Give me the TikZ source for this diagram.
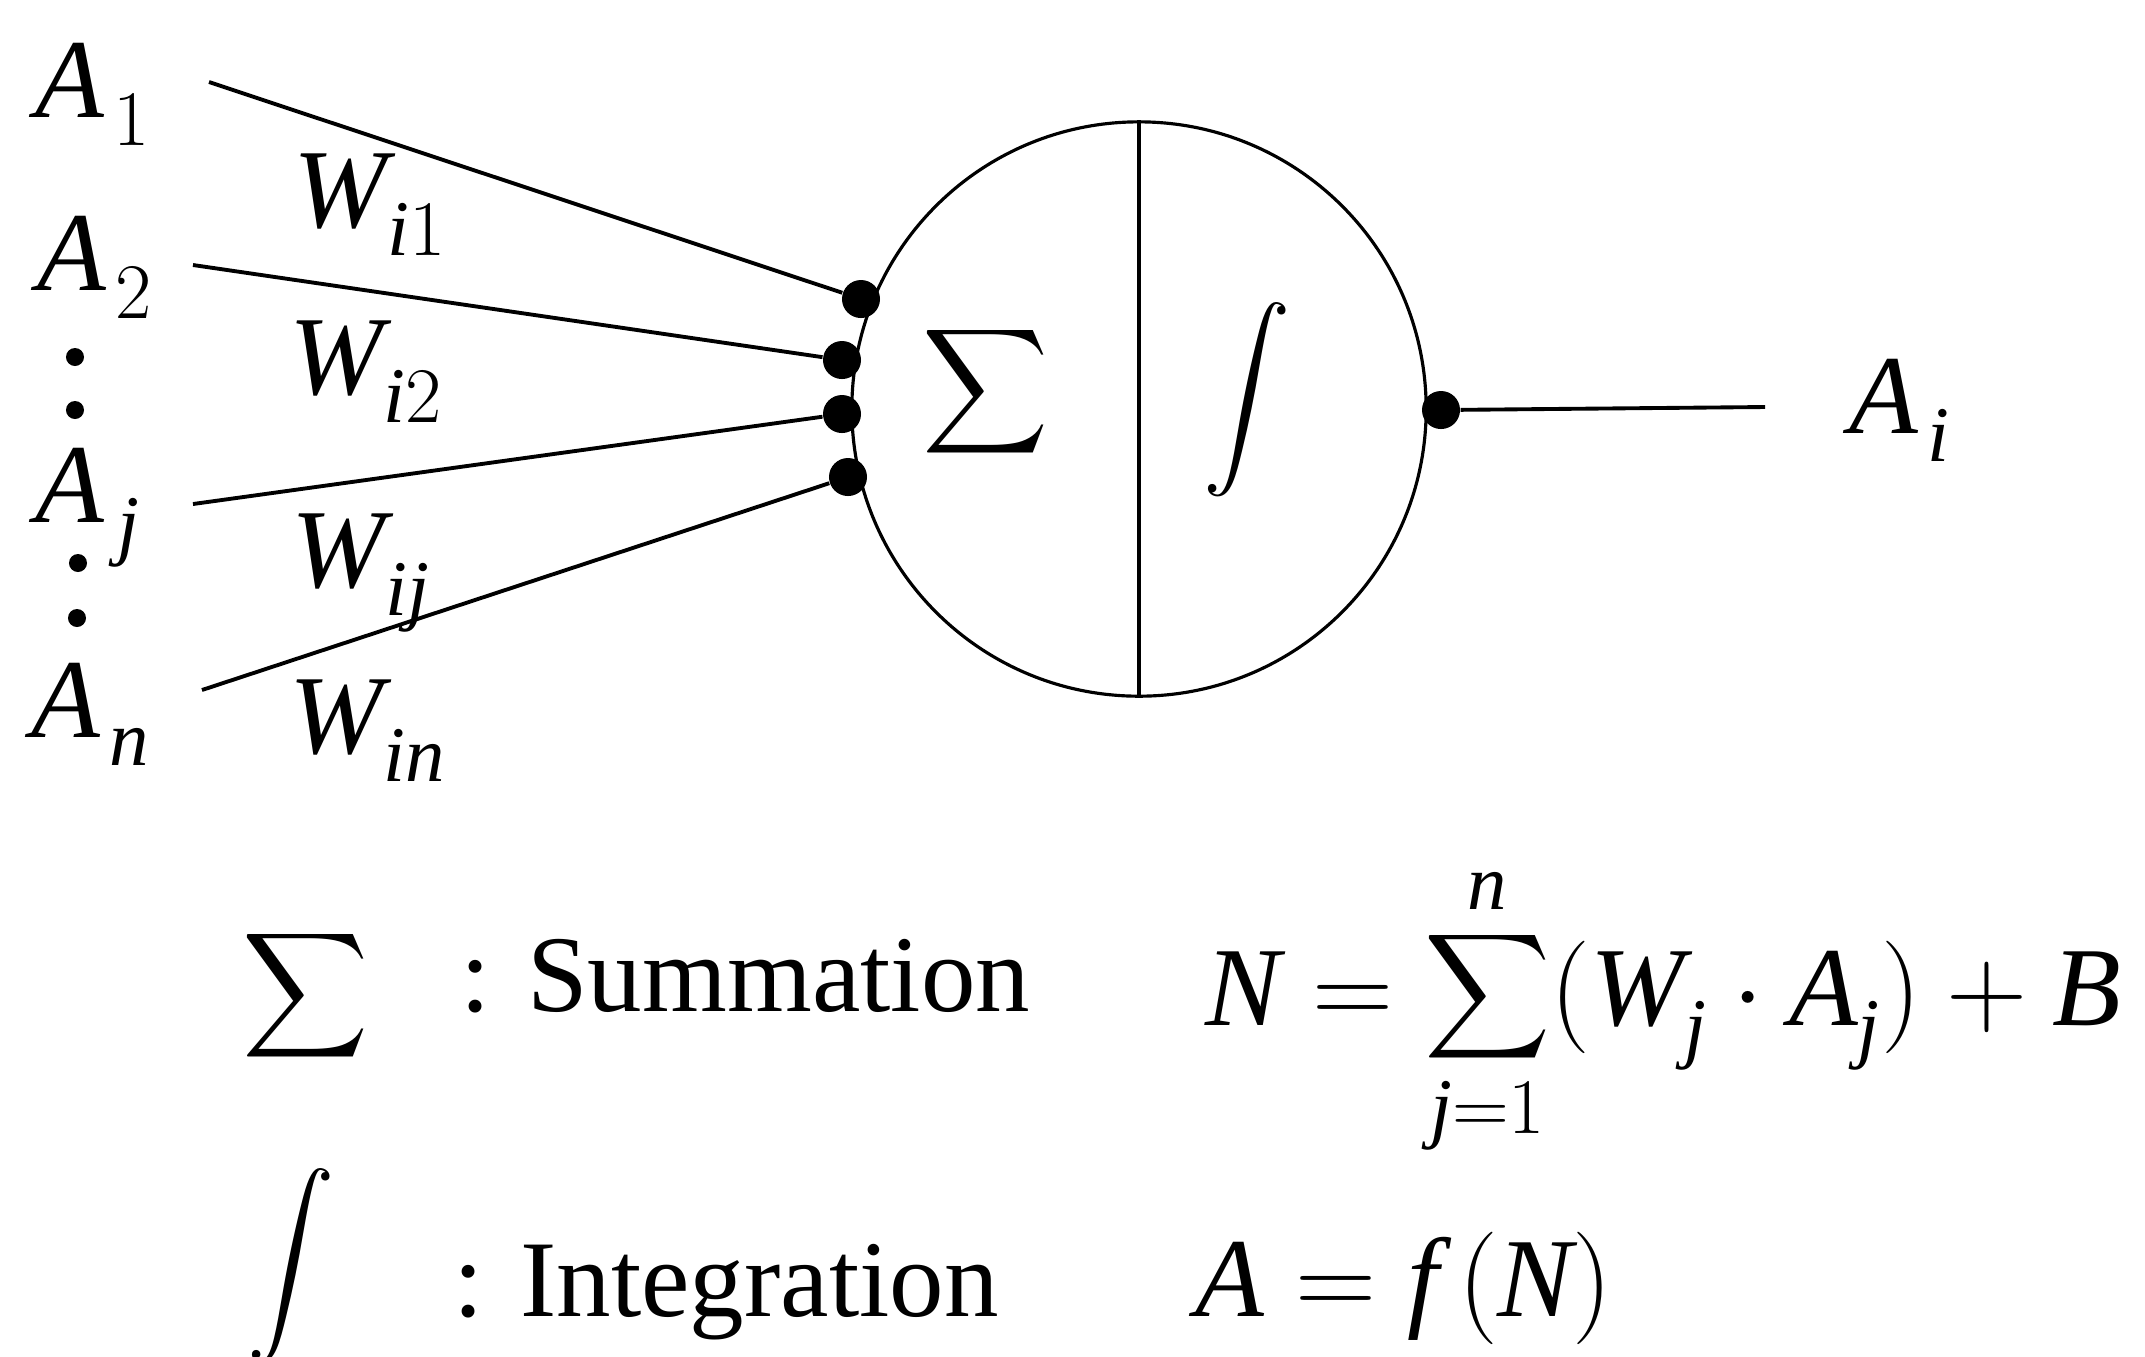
\RequirePackage{fix-cm}
\documentclass[tikz,border=0pt]{standalone}
\usepackage{amsmath}
\usepackage{fontspec}
\setmainfont{Liberation Serif}
\DeclareSymbolFont{letters}{TU}{\rmdefault}{m}{it}
\DeclareSymbolFont{operators}{TU}{\rmdefault}{m}{n}
% tiefere Indizes wie im Original
\newcommand{\tiefsub}{\fontdimen16\textfont2=8pt \fontdimen17\textfont2=8pt }

\begin{document}
\begin{tikzpicture}[x=0.01cm, y=-0.01cm,
  lbl/.style={inner sep=0pt, anchor=base west, font=\fontsize{32}{38}\selectfont},
  bigop/.style={inner sep=0pt},
  synapse/.style={circle, fill, inner sep=0pt, minimum size=0.38cm},
  wire/.style={line width=1.1pt}
]
  \useasboundingbox (0,0) rectangle (2145,1356);

  % Neuron
  \node[circle, draw, line width=0.9pt, minimum size=5.74cm, inner sep=0pt] (cell) at (1139,409) {};
  \draw[line width=0.9pt] (cell.north) -- (cell.south);
  \node[bigop, font=\fontsize{28}{32}\selectfont] (sum) at (986,392) {$\displaystyle\sum$};
  \node[bigop, font=\fontsize{26}{32}\selectfont] (int) at (1247,400) {$\displaystyle\int$};

  % Synapsen
  \node[synapse] (s1) at (861,299) {};
  \node[synapse] (s2) at (842,360) {};
  \node[synapse] (s3) at (842,414) {};
  \node[synapse] (s4) at (848,477) {};
  \node[synapse] (so) at (1441,410) {};

  % Eingaenge
  \node[lbl] (a1) at (35,117) {$\tiefsub A_{\mkern2mu 1}$};
  \node[lbl] (a2) at (37,290) {$\tiefsub A_{\mkern2mu 2}$};
  \node[lbl] (aj) at (35,522) {$\tiefsub A_{\mkern3mu j}$};
  \node[lbl] (an) at (31,737) {$\tiefsub A_{\mkern2mu n}$};
  \fill (75,357) circle[radius=0.09cm] (75,410) circle[radius=0.09cm];
  \fill (78,563) circle[radius=0.09cm] (77,618) circle[radius=0.09cm];

  \coordinate (in1) at (209,82);
  \coordinate (in2) at (193,265);
  \coordinate (inj) at (193,504);
  \coordinate (inn) at (202,690);
  \draw[wire] (in1) -- (s1);
  \draw[wire] (in2) -- (s2);
  \draw[wire] (inj) -- (s3);
  \draw[wire] (inn) -- (s4);

  % Gewichte
  \node[lbl] (w1) at (293,227) {$\tiefsub W_{i1}$};
  \node[lbl] (w2) at (289,394) {$\tiefsub W_{i2}$};
  \node[lbl] (wj) at (291,587) {$\tiefsub W_{ij}$};
  \node[lbl] (wn) at (289,753) {$\tiefsub W_{in}$};

  % Ausgang
  \coordinate (out) at (1765,407);
  \draw[wire] (so) -- (out);
  \node[lbl] (ai) at (1849,433) {$\tiefsub A_{\mkern2mu i}$};

  % Legende
  \node[bigop, font=\fontsize{32}{38}\selectfont] (ksum) at (306,996) {$\displaystyle\sum$};
  \node[lbl, font=\fontsize{31}{38}\selectfont] (ksumtxt) at (460,1011) {: Summation};
  \node[lbl] (ksumeq) at (1205,1025) {$\tiefsub\displaystyle N = \sum_{j=1}^{n}(W_j\cdot A_j)+B$};
  \node[bigop, font=\fontsize{26}{32}\selectfont] (kint) at (291,1266) {$\displaystyle\int$};
  \node[lbl, font=\fontsize{31}{38}\selectfont] (kinttxt) at (453,1316) {: Integration};
  \node[lbl] (kinteq) at (1195,1316) {$A = f\,(N)$};
\end{tikzpicture}
\end{document}
